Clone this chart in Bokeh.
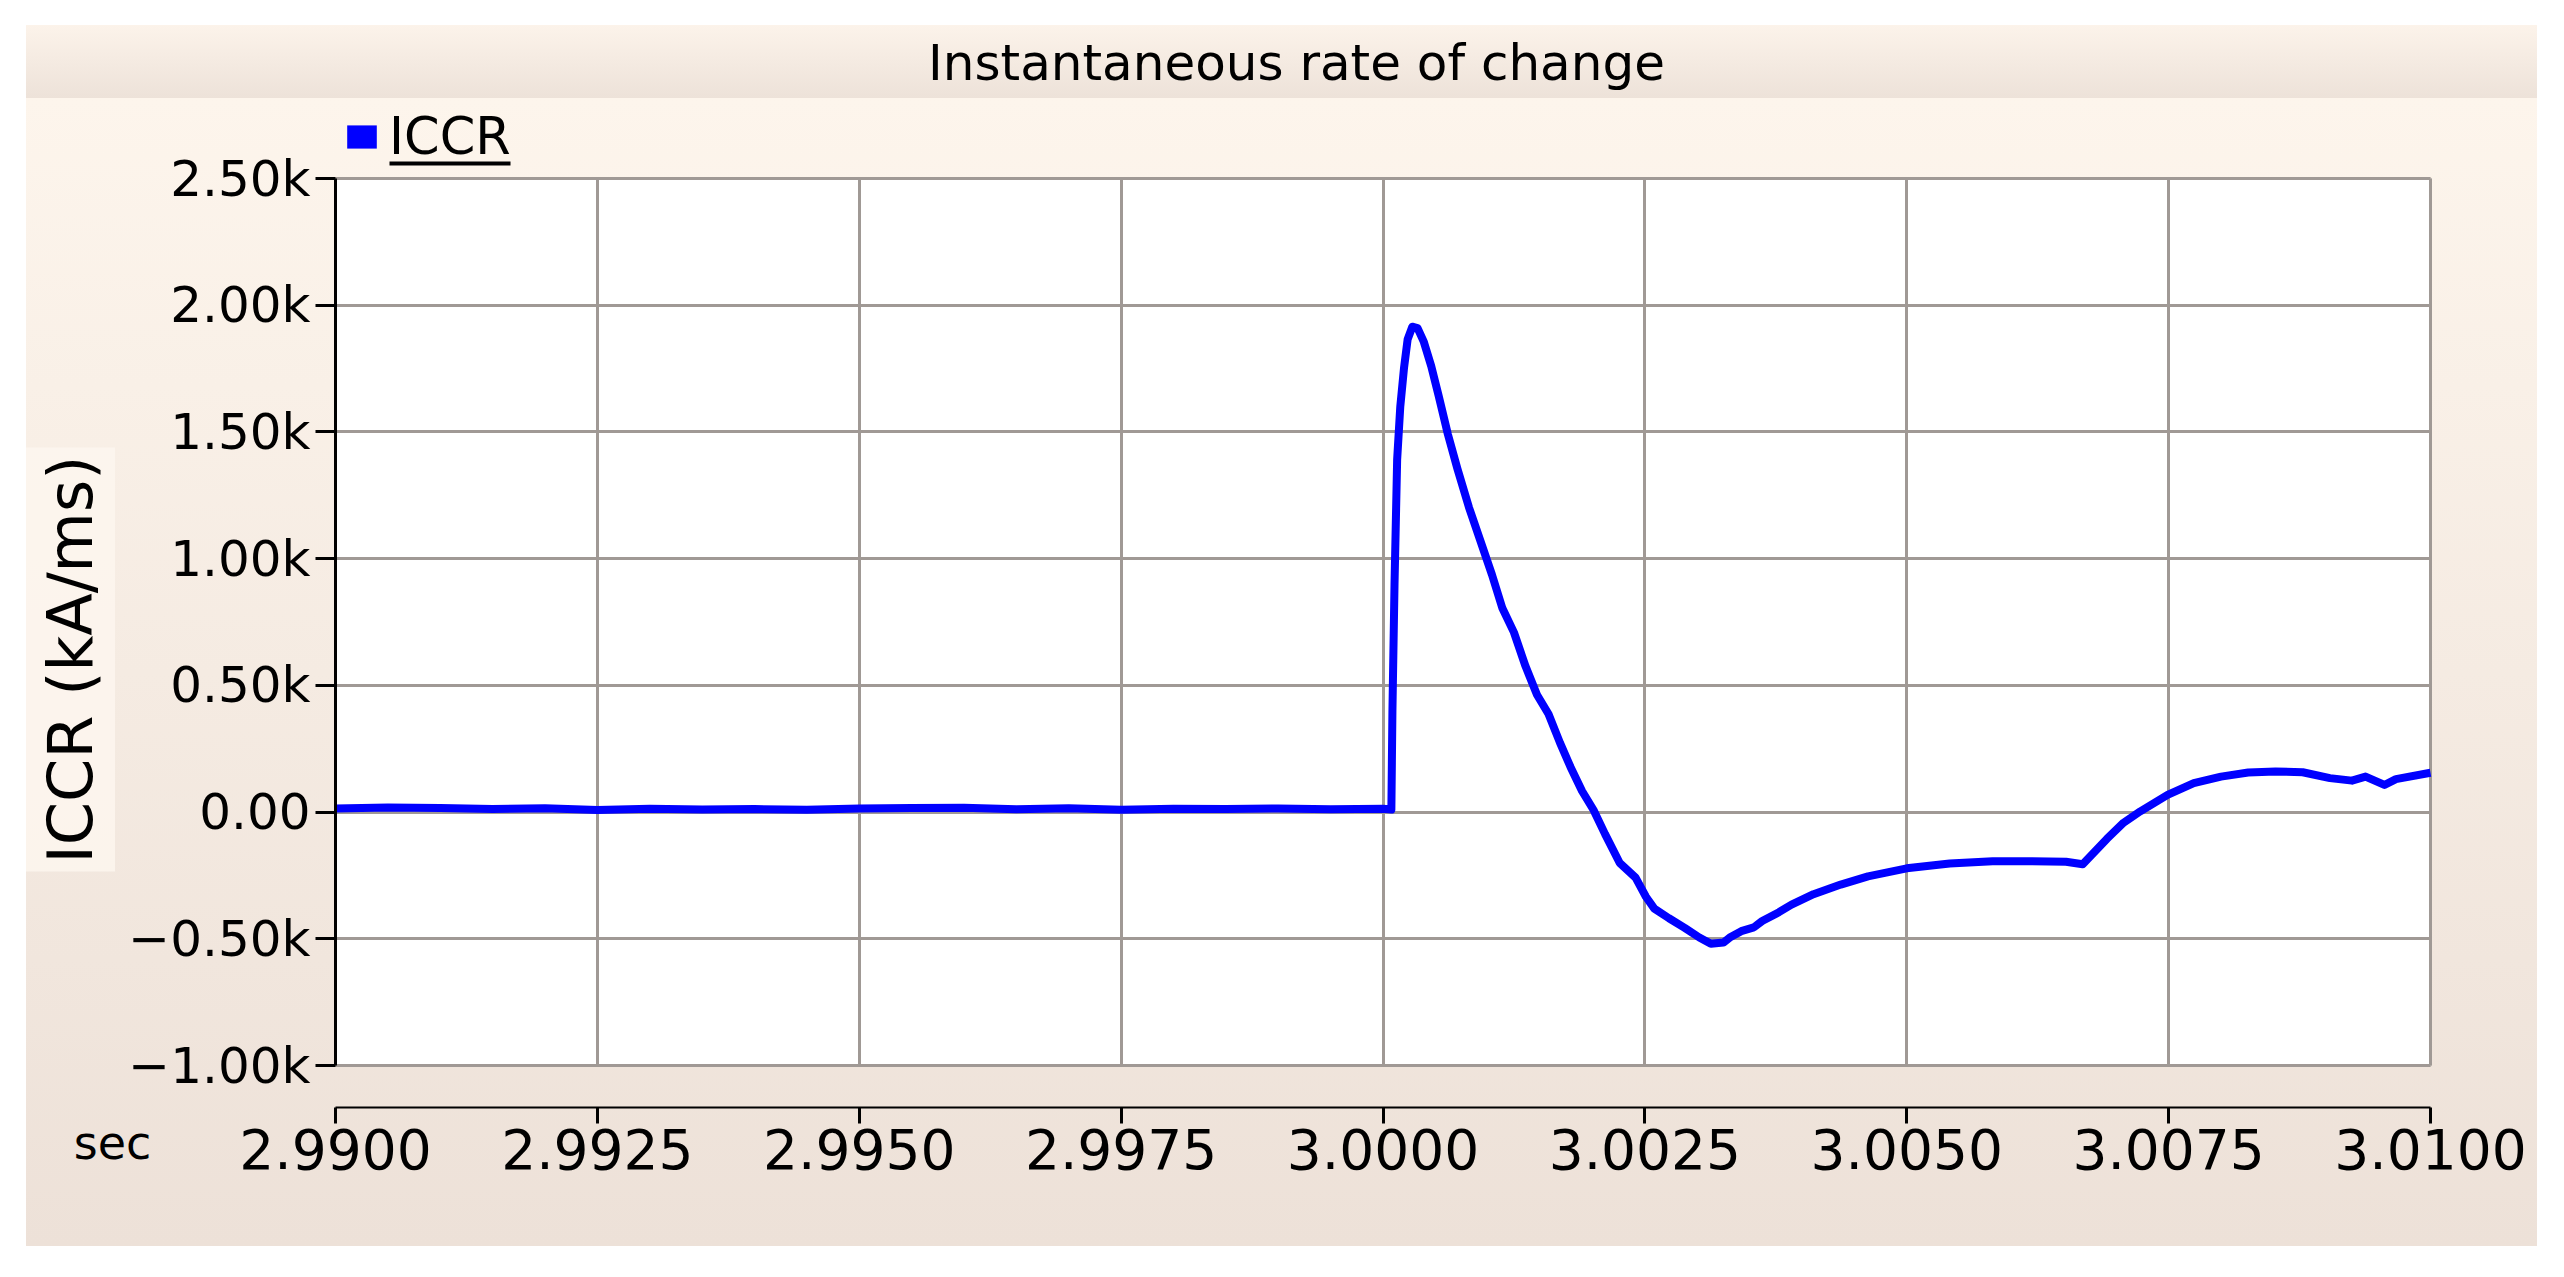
import math
from bokeh.plotting import figure
from bokeh.models import Range1d, FixedTicker, BoxAnnotation, Label, Legend, LegendItem
from bokeh.embed import file_html
from bokeh.resources import INLINE

# ---- data ----
time_s = [2.9900, 2.9905, 2.9910, 2.9915, 2.9920, 2.9925, 2.9930, 2.9935, 2.9940,
          2.9945, 2.9950, 2.9955, 2.9960, 2.9965, 2.9970, 2.9975, 2.9980, 2.9985,
          2.9990, 2.9995, 3.0000, 3.00008,
          3.00009, 3.00011, 3.000135, 3.000165, 3.00020, 3.000235, 3.00028, 3.00033,
          3.00039, 3.00046, 3.00053, 3.00062, 3.00071, 3.00082, 3.00093, 3.00104,
          3.00114, 3.00125, 3.00136, 3.00147, 3.00158, 3.00169, 3.00179, 3.00190,
          3.00201, 3.00212, 3.00226, 3.00241, 3.00251, 3.00259, 3.00273, 3.00288,
          3.00302, 3.00313, 3.00325, 3.00331, 3.00342, 3.00354, 3.00362, 3.00378,
          3.00390, 3.00411, 3.00437, 3.00463, 3.00500, 3.00541, 3.00582, 3.00619,
          3.00652, 3.00668, 3.00691, 3.00707, 3.00723, 3.00749, 3.00774, 3.00800,
          3.00826, 3.00852, 3.00878, 3.00904, 3.00925, 3.00938, 3.00956, 3.00967,
          3.01000]
iccr = [14, 18, 16, 12, 15, 8, 13, 10, 12,
        9, 14, 16, 17, 11, 15, 9, 13, 12,
        14, 11, 13, 10,
        400, 900, 1390, 1600, 1750, 1865, 1915, 1910,
        1855, 1760, 1645, 1490, 1355, 1203, 1070, 937,
        804, 709, 576, 463, 387, 273, 178, 83,
        8, -87, -201, -258, -334, -381, -419, -457,
        -495, -520, -515, -495, -470, -455, -430, -395,
        -365, -324, -286, -254, -222, -203, -194, -194,
        -196, -206, -106, -42, 3, 68, 114, 140,
        156, 160, 157, 134, 124, 140, 107, 130,
        155]

y_ticks = [-1000, -500, 0, 500, 1000, 1500, 2000, 2500]
y_tick_labels = ["\u22121.00k", "\u22120.50k", "0.00", "0.50k", "1.00k", "1.50k", "2.00k", "2.50k"]
x_ticks = [2.9900, 2.9925, 2.9950, 2.9975, 3.0000, 3.0025, 3.0050, 3.0075, 3.0100]
x_tick_labels = ["2.9900", "2.9925", "2.9950", "2.9975", "3.0000", "3.0025", "3.0050", "3.0075", "3.0100"]

series_name = "ICCR"
title_text = "Instantaneous rate of change"
y_label = "ICCR (kA/ms)"
x_unit = "sec"

FONT = "DejaVu Sans"
GRID = "#a09995"
BLUE = "#0000ff"

# ---- layout (canvas pixels) ----
W, H = 2537, 1246
X0_PX, X1_PX = 335, 2430      # where the first / last x tick sit
YT_PX, YB_PX = 178, 1065      # where the top / bottom y tick sit
XS = (x_ticks[-1] - x_ticks[0]) / (X1_PX - X0_PX)
YS = (y_ticks[-1] - y_ticks[0]) / (YB_PX - YT_PX)


def dx(px):
    return x_ticks[0] + (px - X0_PX) * XS


def dy(py):
    return y_ticks[-1] - (py - YT_PX) * YS


p = figure(width=W, height=H,
           x_range=Range1d(dx(0), dx(W)),
           y_range=Range1d(dy(H), dy(0)),
           output_backend="svg", toolbar_location=None,
           min_border=0, min_border_left=0, min_border_right=0,
           min_border_top=0, min_border_bottom=0)
p.title.visible = False
p.background_fill_color = None
p.border_fill_color = None
p.outline_line_color = None
p.styles = {"background": "linear-gradient(to bottom, #fcf3ea 0px, #ede2d9 73px, #fdf5ec 73px, #ede1d8 100%) 26px 25px / 2511px 1221px no-repeat, #ffffff"}

# white plotting area
p.add_layout(BoxAnnotation(left=x_ticks[0], right=x_ticks[-1], bottom=y_ticks[0], top=y_ticks[-1],
                           fill_color="white", fill_alpha=1.0,
                           line_color=GRID, line_width=3, level="image"))

# y axis
yax = p.yaxis[0]
yax.fixed_location = x_ticks[0]
yax.ticker = FixedTicker(ticks=y_ticks)
yax.major_label_overrides = dict(zip(y_ticks, y_tick_labels))
yax.bounds = (y_ticks[0], y_ticks[-1])
yax.axis_line_color = "black"
yax.axis_line_width = 3
yax.major_tick_line_color = "black"
yax.major_tick_line_width = 3
yax.major_tick_out = 20
yax.major_tick_in = 0
yax.minor_tick_line_color = None
yax.major_label_text_font = FONT
yax.major_label_text_font_size = "50px"
yax.major_label_text_color = "black"
yax.major_label_standoff = 5

# x axis
xax = p.xaxis[0]
xax.fixed_location = dy(1107)
xax.ticker = FixedTicker(ticks=x_ticks)
xax.major_label_overrides = dict(zip(x_ticks, x_tick_labels))
xax.bounds = (x_ticks[0], x_ticks[-1])
xax.axis_line_color = "black"
xax.axis_line_width = 2
xax.major_tick_line_color = "black"
xax.major_tick_line_width = 3
xax.major_tick_out = 16
xax.major_tick_in = 0
xax.minor_tick_line_color = None
xax.major_label_text_font = FONT
xax.major_label_text_font_size = "55px"
xax.major_label_text_color = "black"
xax.major_label_standoff = 5

# grids
p.ygrid.grid_line_color = GRID
p.ygrid.grid_line_width = 3
p.ygrid.bounds = (y_ticks[0], y_ticks[-1])
p.ygrid.cross_bounds = (x_ticks[0], x_ticks[-1])
p.xgrid.grid_line_color = GRID
p.xgrid.grid_line_width = 3
p.xgrid.bounds = (x_ticks[0], x_ticks[-1])
p.xgrid.cross_bounds = (y_ticks[0], y_ticks[-1])

# series
line_r = p.line(time_s, iccr, line_color=BLUE, line_width=8, line_join="round")
# zero-size rects on the same points: only used to give the legend a filled swatch
swatch_r = p.rect(time_s, iccr, width=0, height=0, fill_color=BLUE, line_color=None)

# title
p.add_layout(Label(x=dx(1296), y=dy(62), text=title_text, text_font=FONT, text_font_size="50px",
                   text_color="black", text_align="center", text_baseline="alphabetic"))

# y axis title
p.add_layout(Label(x=dx(70), y=dy(659), text=y_label, angle=math.pi / 2,
                   text_font=FONT, text_font_size="62px", text_color="black",
                   text_align="center", text_baseline="middle",
                   background_fill_color="#fdf6ef", background_fill_alpha=0.85, padding=8))

# unit label for the x axis
p.add_layout(Label(x=dx(112), y=dy(1142), text=x_unit, text_font=FONT, text_font_size="46px",
                   text_color="black", text_align="center", text_baseline="middle"))

# legend
legend = Legend(items=[LegendItem(label=series_name, renderers=[swatch_r])],
                location=(343, H - 166), glyph_width=37, glyph_height=29, label_standoff=9,
                padding=0, margin=0, border_line_color=None, background_fill_alpha=0,
                label_text_font=FONT, label_text_font_size="51px", label_text_color="black")
p.add_layout(legend)

# underline of legend label
p.add_layout(BoxAnnotation(left=dx(389), right=dx(510), top=dy(161), bottom=dy(165),
                           fill_color="black", fill_alpha=1.0, line_color=None))

open("out.html", "w").write(file_html(p, INLINE))
